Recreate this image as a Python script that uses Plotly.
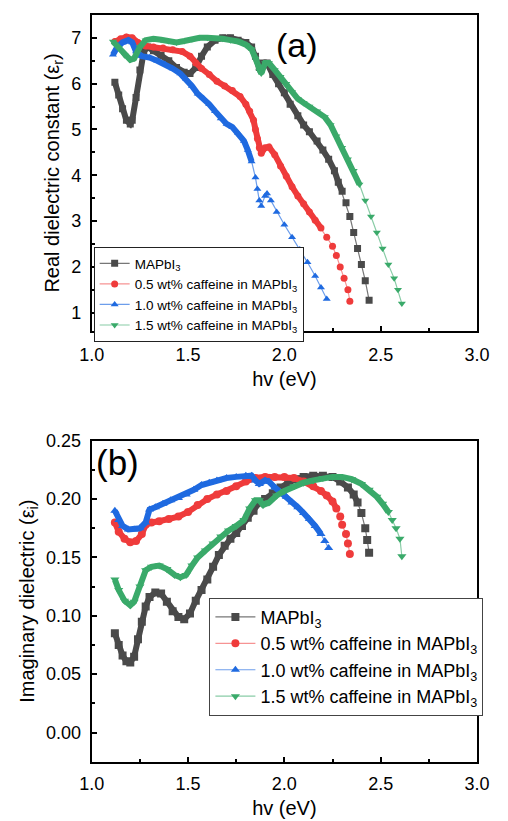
import plotly.graph_objects as go

# ---------------- data ----------------
series_names = ["MAPbI<sub>3</sub>",
                "0.5 wt% caffeine in MAPbI<sub>3</sub>",
                "1.0 wt% caffeine in MAPbI<sub>3</sub>",
                "1.5 wt% caffeine in MAPbI<sub>3</sub>"]

# (a) real part
real_e_0 = [1.12, 1.14, 1.16, 1.18, 1.20, 1.21, 1.23, 1.25, 1.27, 1.29, 1.32, 1.36, 1.40, 1.44, 1.48, 1.51,
            1.54, 1.57, 1.60, 1.64, 1.68, 1.72, 1.76, 1.80, 1.83, 1.85, 1.87, 1.89, 1.91, 1.94, 1.97, 2.00,
            2.03, 2.07, 2.10, 2.13, 2.17, 2.20, 2.23, 2.26, 2.28, 2.30, 2.32, 2.34, 2.36, 2.38, 2.40, 2.42, 2.44]
real_v_0 = [6.03, 5.75, 5.45, 5.20, 5.12, 5.20, 5.70, 6.30, 6.70, 6.80, 6.72, 6.62, 6.50, 6.35, 6.25, 6.22,
            6.35, 6.60, 6.80, 6.95, 7.00, 7.00, 6.95, 6.90, 6.80, 6.60, 6.35, 6.45, 6.45, 6.20, 6.00, 5.80,
            5.55, 5.30, 5.10, 4.95, 4.75, 4.55, 4.35, 4.10, 3.85, 3.65, 3.40, 3.10, 2.75, 2.40, 2.05, 1.70, 1.27]

real_e_1 = [1.12, 1.15, 1.18, 1.21, 1.24, 1.28, 1.32, 1.37, 1.42, 1.47, 1.51, 1.54, 1.57, 1.61, 1.65, 1.69,
            1.73, 1.77, 1.80, 1.82, 1.84, 1.85, 1.86, 1.87, 1.88, 1.90, 1.92, 1.95, 1.98, 2.01, 2.04, 2.07,
            2.10, 2.13, 2.16, 2.19, 2.22, 2.25, 2.27, 2.29, 2.31, 2.33, 2.34]
real_v_1 = [6.92, 6.98, 7.02, 7.00, 6.90, 6.82, 6.80, 6.78, 6.74, 6.70, 6.60, 6.45, 6.33, 6.20, 6.05, 5.95,
            5.85, 5.72, 5.55, 5.40, 5.20, 5.00, 4.80, 4.60, 4.48, 4.60, 4.62, 4.45, 4.20, 3.98, 3.75, 3.55,
            3.38, 3.20, 3.02, 2.85, 2.65, 2.45, 2.25, 2.00, 1.75, 1.50, 1.25]

real_e_2 = [1.11, 1.13, 1.16, 1.19, 1.21, 1.23, 1.26, 1.30, 1.34, 1.38, 1.42, 1.46, 1.49, 1.52, 1.55, 1.58,
            1.61, 1.64, 1.67, 1.70, 1.73, 1.76, 1.79, 1.81, 1.83, 1.85, 1.86, 1.87, 1.88, 1.90, 1.91, 1.93,
            1.96, 2.00, 2.04, 2.08, 2.12, 2.16, 2.19, 2.22]
real_v_2 = [6.63, 6.78, 6.90, 6.95, 6.90, 6.70, 6.60, 6.57, 6.50, 6.43, 6.33, 6.22, 6.10, 5.95, 5.78, 5.68,
            5.55, 5.40, 5.24, 5.12, 5.05, 4.92, 4.75, 4.55, 4.30, 3.95, 3.70, 3.45, 3.33, 3.55, 3.60, 3.45,
            3.20, 2.92, 2.65, 2.38, 2.10, 1.80, 1.55, 1.30]

real_e_3 = [1.11, 1.14, 1.17, 1.20, 1.22, 1.25, 1.28, 1.32, 1.36, 1.40, 1.44, 1.48, 1.52, 1.56, 1.60, 1.64,
            1.68, 1.72, 1.76, 1.80, 1.83, 1.85, 1.87, 1.88, 1.90, 1.92, 1.95, 1.98, 2.01, 2.04, 2.07, 2.10,
            2.13, 2.17, 2.21, 2.24, 2.27, 2.30, 2.33, 2.36, 2.39, 2.42, 2.45, 2.48, 2.51, 2.54, 2.57, 2.59, 2.61]
real_v_3 = [6.92, 6.78, 6.62, 6.52, 6.55, 6.80, 6.95, 6.98, 6.96, 6.93, 6.90, 6.93, 6.97, 7.00, 7.00, 7.00,
            6.98, 6.95, 6.92, 6.85, 6.75, 6.55, 6.28, 6.22, 6.45, 6.45, 6.30, 6.15, 6.00, 5.82, 5.67, 5.58,
            5.50, 5.40, 5.27, 5.10, 4.85, 4.60, 4.35, 4.10, 3.80, 3.45, 3.10, 2.75, 2.40, 2.05, 1.75, 1.50, 1.20]

# (b) imaginary part
imag_e_0 = [1.12, 1.14, 1.16, 1.18, 1.20, 1.22, 1.24, 1.26, 1.28, 1.30, 1.33, 1.36, 1.39, 1.42, 1.45, 1.48,
            1.51, 1.54, 1.57, 1.60, 1.63, 1.66, 1.69, 1.72, 1.75, 1.78, 1.81, 1.84, 1.87, 1.90, 1.94, 1.98,
            2.02, 2.06, 2.10, 2.15, 2.20, 2.25, 2.29, 2.33, 2.36, 2.38, 2.40, 2.42, 2.43, 2.44]
imag_v_0 = [0.085, 0.075, 0.066, 0.061, 0.060, 0.065, 0.080, 0.095, 0.108, 0.116, 0.120, 0.119, 0.112, 0.104,
            0.099, 0.097, 0.102, 0.113, 0.122, 0.131, 0.142, 0.152, 0.160, 0.166, 0.171, 0.177, 0.184, 0.190,
            0.197, 0.200, 0.205, 0.210, 0.214, 0.217, 0.219, 0.220, 0.220, 0.219, 0.215, 0.210, 0.204, 0.197,
            0.188, 0.175, 0.165, 0.154]

imag_e_1 = [1.12, 1.14, 1.17, 1.20, 1.23, 1.26, 1.28, 1.31, 1.35, 1.40, 1.45, 1.50, 1.55, 1.60, 1.65, 1.70,
            1.75, 1.80, 1.85, 1.90, 1.95, 2.00, 2.05, 2.10, 2.15, 2.19, 2.22, 2.25, 2.27, 2.29, 2.30, 2.32,
            2.33, 2.34]
imag_v_1 = [0.180, 0.172, 0.166, 0.163, 0.164, 0.170, 0.178, 0.180, 0.181, 0.183, 0.185, 0.189, 0.195, 0.200,
            0.204, 0.207, 0.211, 0.215, 0.218, 0.219, 0.219, 0.219, 0.218, 0.215, 0.211, 0.207, 0.203, 0.198,
            0.192, 0.185, 0.178, 0.170, 0.162, 0.153]

imag_e_2 = [1.12, 1.14, 1.16, 1.19, 1.22, 1.25, 1.28, 1.30, 1.33, 1.37, 1.41, 1.45, 1.49, 1.53, 1.57, 1.61,
            1.65, 1.70, 1.75, 1.80, 1.83, 1.85, 1.87, 1.90, 1.92, 1.95, 1.98, 2.01, 2.04, 2.07, 2.10, 2.13,
            2.16, 2.19, 2.21, 2.23]
imag_v_2 = [0.190, 0.182, 0.177, 0.174, 0.174, 0.175, 0.180, 0.191, 0.193, 0.196, 0.199, 0.201, 0.204, 0.208,
            0.212, 0.214, 0.216, 0.218, 0.219, 0.220, 0.220, 0.216, 0.213, 0.216, 0.215, 0.210, 0.206, 0.202,
            0.197, 0.193, 0.188, 0.183, 0.177, 0.170, 0.164, 0.158]

imag_e_3 = [1.12, 1.14, 1.17, 1.20, 1.22, 1.25, 1.28, 1.31, 1.35, 1.39, 1.43, 1.46, 1.49, 1.52, 1.55, 1.59,
            1.63, 1.67, 1.71, 1.75, 1.79, 1.82, 1.85, 1.87, 1.89, 1.92, 1.96, 2.00, 2.05, 2.10, 2.15, 2.20,
            2.25, 2.30, 2.35, 2.40, 2.44, 2.48, 2.51, 2.54, 2.56, 2.58, 2.60, 2.61]
imag_v_3 = [0.131, 0.122, 0.113, 0.109, 0.112, 0.125, 0.139, 0.142, 0.143, 0.140, 0.135, 0.133, 0.135, 0.143,
            0.150, 0.156, 0.162, 0.168, 0.173, 0.177, 0.182, 0.192, 0.199, 0.199, 0.195, 0.197, 0.203, 0.207,
            0.211, 0.214, 0.216, 0.218, 0.219, 0.219, 0.217, 0.213, 0.208, 0.202, 0.196, 0.189, 0.182, 0.175,
            0.166, 0.151]

x_ticks = [1.0, 1.5, 2.0, 2.5, 3.0]

# ---------------- style ----------------
colors = ["#4a4a4a", "#ef3b3b", "#1f6ae0", "#3aaa6a"]
line_colors = ["rgba(74,74,74,0.75)", "rgba(239,59,59,0.55)", "rgba(31,106,224,0.65)", "rgba(58,170,106,0.6)"]
symbols = ["square", "circle", "triangle-up", "triangle-down"]
band_end_real = [2.31, 2.21, 1.84, 2.40]
band_end_imag = [2.38, 2.28, 2.19, 2.54]
FONT = "Arial, Liberation Sans, sans-serif"

real_e = [real_e_0, real_e_1, real_e_2, real_e_3]
real_v = [real_v_0, real_v_1, real_v_2, real_v_3]
imag_e = [imag_e_0, imag_e_1, imag_e_2, imag_e_3]
imag_v = [imag_v_0, imag_v_1, imag_v_2, imag_v_3]

fig = go.Figure()

def add_panel(es, vs, band_end, xa, ya, legend, msize):
    for i in range(4):
        bx = [e for e in es[i] if e <= band_end[i]]
        by = [v for e, v in zip(es[i], vs[i]) if e <= band_end[i]]
        fig.add_trace(go.Scatter(x=bx, y=by, mode="lines", xaxis=xa, yaxis=ya,
                                 line=dict(color=colors[i], width=6), showlegend=False,
                                 hoverinfo="skip"))
        fig.add_trace(go.Scatter(x=es[i], y=vs[i], mode="lines+markers", xaxis=xa, yaxis=ya,
                                 name=series_names[i], legend=legend,
                                 line=dict(color=line_colors[i], width=1.2),
                                 marker=dict(symbol=symbols[i], size=msize, color=colors[i],
                                             line=dict(width=0))))

add_panel(real_e, real_v, band_end_real, "x", "y", "legend", 7)
add_panel(imag_e, imag_v, band_end_imag, "x2", "y2", "legend2", 8)

xdom = [83 / 508, 489 / 508]
TICKFONT = dict(family=FONT, size=18, color="black")
axis_common = dict(showline=True, linecolor="black", linewidth=2, mirror=True,
                   ticks="inside", ticklen=5, tickwidth=1.5, tickcolor="black",
                   showgrid=False, zeroline=False, tickfont=TICKFONT)
minor_x = dict(dtick=0.25, tick0=1.0, ticks="inside", ticklen=3, tickwidth=1.5, tickcolor="black")

fig.update_layout(
    width=508, height=821,
    margin=dict(l=0, r=0, t=0, b=0),
    paper_bgcolor="white", plot_bgcolor="white",
    font=dict(family=FONT, color="black"),
    xaxis=dict(axis_common, domain=xdom, range=[1.0, 3.0], tickvals=x_ticks, tickformat=".1f",
               minor=minor_x, ticklabelstandoff=6, anchor="y",
               title=dict(text="hv (eV)", font=dict(family=FONT, size=20), standoff=8)),
    yaxis=dict(axis_common, domain=[1 - 325 / 821, 1 - 5 / 821], range=[0.6, 7.5], dtick=1, tick0=1,
               minor=dict(dtick=0.5, tick0=0.5, ticks="inside", ticklen=3, tickwidth=1.5, tickcolor="black"),
               ticklabelstandoff=5, anchor="x",
               title=dict(text="Real dielectric constant (ε<sub>r</sub>)", font=dict(family=FONT, size=20), standoff=6)),
    xaxis2=dict(axis_common, domain=xdom, range=[1.0, 3.0], tickvals=x_ticks, tickformat=".1f",
                minor=minor_x, ticklabelstandoff=5, anchor="y2",
                title=dict(text="hv (eV)", font=dict(family=FONT, size=20), standoff=8)),
    yaxis2=dict(axis_common, domain=[1 - 761 / 821, 1 - 436 / 821], range=[-0.025, 0.25], dtick=0.05, tick0=0,
                tickformat=".2f",
                minor=dict(dtick=0.025, ticks="inside", ticklen=3, tickwidth=1.5, tickcolor="black"),
                ticklabelstandoff=5, anchor="x2",
                title=dict(text="Imaginary dielectric (ε<sub>i</sub>)", font=dict(family=FONT, size=20), standoff=6)),
    legend=dict(x=85 / 508, y=1 - 240 / 821, xanchor="left", yanchor="top",
                bgcolor="white", bordercolor="#222", borderwidth=1,
                font=dict(family=FONT, size=13.5), itemwidth=30, tracegroupgap=0),
    legend2=dict(x=207 / 508, y=1 - 595 / 821, xanchor="left", yanchor="top",
                 bgcolor="white", bordercolor="#444", borderwidth=1,
                 font=dict(family=FONT, size=18), itemwidth=40, tracegroupgap=0),
    annotations=[
        dict(text="(a)", x=299 / 508, y=1 - 35 / 821, xref="paper", yref="paper",
             showarrow=False, font=dict(family=FONT, size=34), xanchor="center", yanchor="middle"),
        dict(text="(b)", x=110 / 508, y=1 - 458 / 821, xref="paper", yref="paper",
             showarrow=False, font=dict(family=FONT, size=35), xanchor="center", yanchor="middle"),
    ],
)

fig.write_html("out.html", config={"displayModeBar": False},
               post_script="document.body.style.margin='0';document.body.style.overflow='hidden';")
